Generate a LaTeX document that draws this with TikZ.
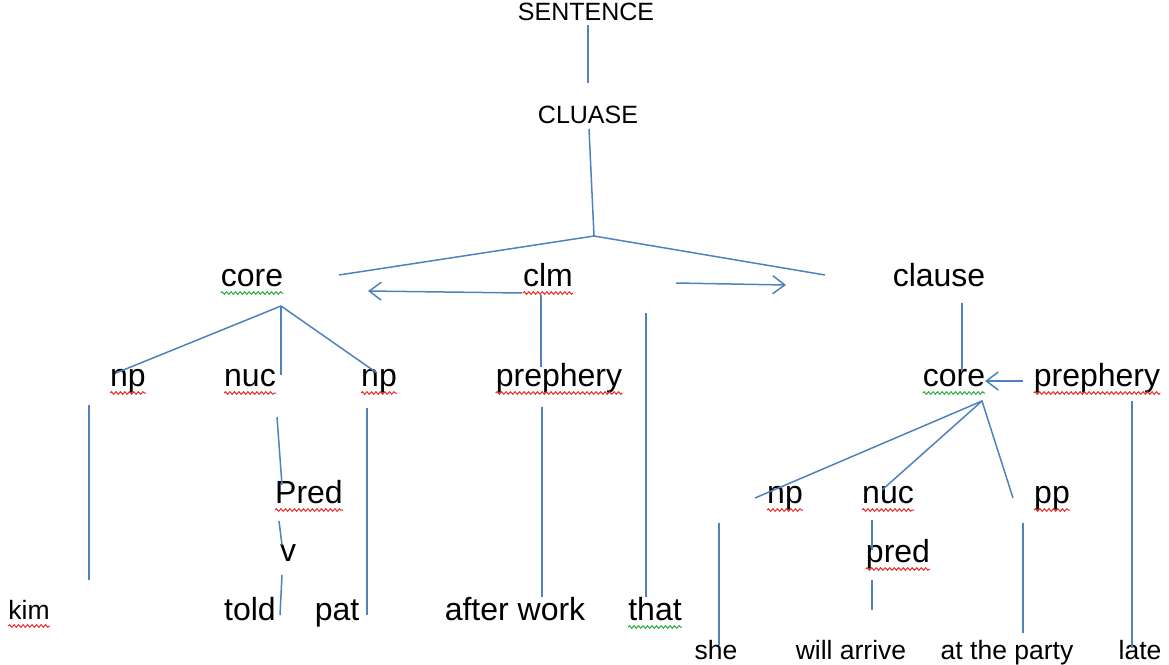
\documentclass[tikz,border=0pt]{standalone}
\usepackage{fontspec}
\setmainfont{Liberation Sans}
\usetikzlibrary{arrows.meta,decorations.pathmorphing}
\definecolor{linkblue}{RGB}{79,129,189}
\definecolor{spellred}{RGB}{235,40,40}
\definecolor{spellgreen}{RGB}{40,170,60}
\tikzset{
  word/.style={anchor=base,inner sep=0pt,font=\fontsize{32}{38}\selectfont},
  head/.style={word,font=\fontsize{25}{30}\selectfont},
  leaf/.style={word,font=\fontsize{26.5}{31}\selectfont},
  branch/.style={draw=linkblue,line width=1.5pt},
  pointer/.style={branch,-{Straight Barb[length=12pt,width=18pt]}},
  wavy/.style={decorate,decoration={snake,amplitude=1.3pt,segment length=4.5pt},line width=1pt}
}

\begin{document}
\begin{tikzpicture}[x=1pt,y=-1pt]
    \useasboundingbox (0,0) rectangle (1169,664);
    {
      \node[head] (sentence) at (586,20) {SENTENCE};
      \node[head] (cluase) at (588,123) {CLUASE};
    }
    {
      \node[word] (core) at (252,286) {core};
      \node[word] (clm) at (548,286) {clm};
      \node[word] (clause) at (939,286) {clause};
    }
    {
      \node[word] (npL) at (128,386) {np};
      \node[word] (nuc) at (250,386) {nuc};
      \node[word] (npR) at (379,386) {np};
      \node[word] (preph) at (559,386) {prephery};
      \node[word] (coreR) at (954,386) {core};
      \node[word] (prephR) at (1097,386) {prephery};
    }
    {
      \node[word] (Pred) at (309,503) {Pred};
      \node[word] (v) at (288,561) {v};
      \node[word] (npS) at (785,503) {np};
      \node[word] (nucS) at (888,503) {nuc};
      \node[word] (pp) at (1052,503) {pp};
      \node[word] (pred) at (898,562) {pred};
    }
    {
      \node[leaf] (kim) at (29,619) {kim};
      \node[word] (told) at (250,620) {told};
      \node[word] (pat) at (337,620) {pat};
      \node[word] (work) at (515,620) {after work};
      \node[word] (that) at (655,620) {that};
      \node[leaf] (she) at (716,659) {she};
      \node[leaf] (arrive) at (851,659) {will arrive};
      \node[leaf] (party) at (1007,659) {at the party};
      \node[leaf] (late) at (1140,659) {late};
    }
    % spell check marks
    \foreach \n in {clm,npL,nuc,npR,preph,prephR,Pred,npS,nucS,pp,pred,kim}
      \draw[wavy,spellred] ([yshift=-7pt]\n.base west) -- ([yshift=-7pt]\n.base east);
    \foreach \n in {core,coreR,that}
      \draw[wavy,spellgreen] ([yshift=-7pt]\n.base west) -- ([yshift=-7pt]\n.base east);
    % line ends
    \coordinate (sentA) at (588,25);   \coordinate (sentB) at (588,83);
    \coordinate (clA) at (589,129);    \coordinate (apex) at (594,236);
    \coordinate (apexL) at (339,275);  \coordinate (apexR) at (825,275);
    \coordinate (clmL) at (522,293);   \coordinate (tipL) at (368,291);
    \coordinate (arrR) at (676,283);   \coordinate (tipR) at (786,285);
    \coordinate (clmB) at (541,295);   \coordinate (prephA) at (541,367);
    \coordinate (thatA) at (646,313);  \coordinate (thatB) at (646,597);
    \coordinate (coreA) at (281,306);  \coordinate (npLA) at (116,373);
    \coordinate (nucA) at (281,375);   \coordinate (npRA) at (377,373);
    \coordinate (kimA) at (89,405);    \coordinate (kimB) at (89,580);
    \coordinate (nucB) at (277,417);   \coordinate (PredA) at (282,485);
    \coordinate (PredB) at (279,521);  \coordinate (vA) at (282,545);
    \coordinate (vB) at (282,575);     \coordinate (toldA) at (280,615);
    \coordinate (patA) at (367,408);   \coordinate (patB) at (367,615);
    \coordinate (workA) at (542,407);  \coordinate (workB) at (542,597);
    \coordinate (clauseA) at (962,303); \coordinate (coreRA) at (962,370);
    \coordinate (prephRA) at (1023,381); \coordinate (tipC) at (985,381);
    \coordinate (coreRB) at (982,401); \coordinate (npSA) at (755,498);
    \coordinate (nucSA) at (882,490);  \coordinate (ppA) at (1013,498);
    \coordinate (sheA) at (719,523);   \coordinate (sheB) at (719,645);
    \coordinate (nucSB) at (872,520);  \coordinate (predA) at (872,550);
    \coordinate (predB) at (872,580);  \coordinate (arriveA) at (872,610);
    \coordinate (ppB) at (1023,523);   \coordinate (partyA) at (1023,633);
    \coordinate (lateA) at (1132,401); \coordinate (lateB) at (1132,648);
    % branches
    \draw[branch] (sentA) -- (sentB);
    \draw[branch] (clA) -- (apex);
    \draw[branch] (apexL) -- (apex) -- (apexR);
    \draw[pointer] (clmL) -- (tipL);
    \draw[pointer] (arrR) -- (tipR);
    \draw[branch] (clmB) -- (prephA);
    \draw[branch] (thatA) -- (thatB);
    \draw[branch] (npLA) -- (coreA) -- (npRA);
    \draw[branch] (coreA) -- (nucA);
    \draw[branch] (kimA) -- (kimB);
    \draw[branch] (nucB) -- (PredA);
    \draw[branch] (PredB) -- (vA);
    \draw[branch] (vB) -- (toldA);
    \draw[branch] (patA) -- (patB);
    \draw[branch] (workA) -- (workB);
    \draw[branch] (clauseA) -- (coreRA);
    \draw[pointer] (prephRA) -- (tipC);
    \draw[branch] (npSA) -- (coreRB) -- (ppA);
    \draw[branch] (coreRB) -- (nucSA);
    \draw[branch] (sheA) -- (sheB);
    \draw[branch] (nucSB) -- (predA);
    \draw[branch] (predB) -- (arriveA);
    \draw[branch] (ppB) -- (partyA);
    \draw[branch] (lateA) -- (lateB);
  \end{tikzpicture}
\end{document}
